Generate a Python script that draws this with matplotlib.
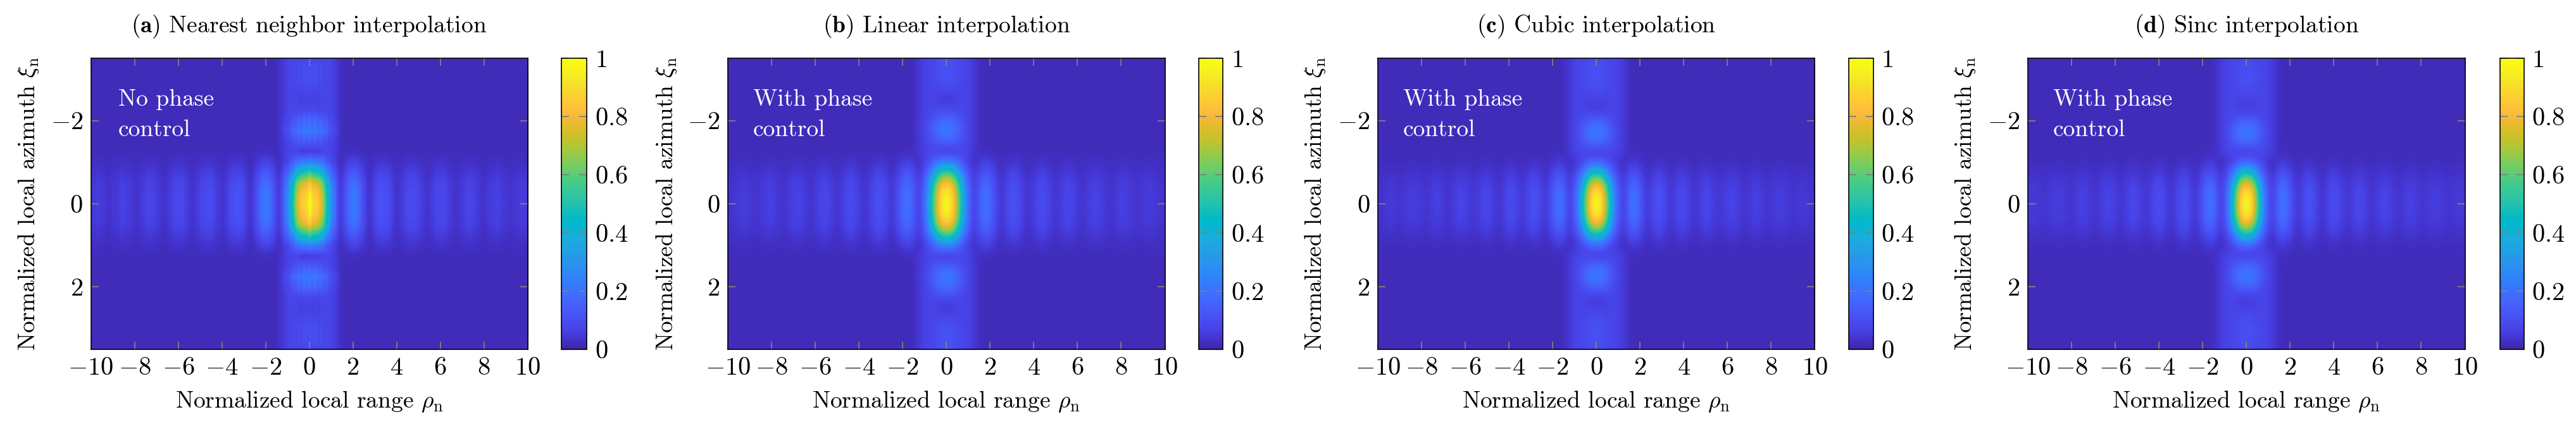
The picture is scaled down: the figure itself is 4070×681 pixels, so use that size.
#!/usr/bin/env python3
"""
Four normalized point target responses with parula colorbars
"""
import matplotlib
matplotlib.use('Agg')
import matplotlib.pyplot as plt
import numpy as np
from matplotlib.colors import LinearSegmentedColormap

plt.rcParams['font.family'] = ['cmr10', 'DejaVu Serif']
plt.rcParams['mathtext.fontset'] = 'cm'
plt.rcParams['axes.formatter.use_mathtext'] = True
plt.rcParams['axes.unicode_minus'] = False

titles = [
    r'($\mathbf{a}$) Nearest neighbor interpolation',
    r'($\mathbf{b}$) Linear interpolation',
    r'($\mathbf{c}$) Cubic interpolation',
    r'($\mathbf{d}$) Sinc interpolation',
]
notes = [
    ['No phase', 'control'],
    ['With phase', 'control'],
    ['With phase', 'control'],
    ['With phase', 'control'],
]

x_ticks = [-10, -8, -6, -4, -2, 0, 2, 4, 6, 8, 10]
y_ticks = [-2, 0, 2]
bar_ticks = [0, 0.2, 0.4, 0.6, 0.8, 1]
bar_labels = ['0', '0.2', '0.4', '0.6', '0.8', '1']

# values read along rho_n from 0 to 10, panel a every 0.125, the others every 0.25
range_a = [1.00, .90, .88, .85, .78, .68, .50, .40, .26, .20, .10, .04, .05, .10, .15, .19,
           .21, .20, .16, .11, .07, .03, .02, .04, .07, .09, .10, .10, .09, .08, .05, .03,
           .02, .03, .04, .06, .08, .08, .08, .07, .06, .04, .03, .02, .03, .04, .06, .07,
           .07, .07, .06, .04, .03, .02, .02, .03, .04, .05, .06, .06, .05, .04, .03, .02,
           .02, .03, .04, .04, .05, .05, .04, .03, .03, .02, .02, .03, .03, .04, .04, .03, .03]
range_b = [1.00, .93, .68, .38, .17, .03, .12, .20, .16, .07, .02, .06, .10, .09, .04, .02,
           .04, .08, .08, .04, .02, .04, .065, .06, .03, .02, .04, .055, .05, .03, .02, .03,
           .05, .04, .03, .02, .03, .04, .035, .02, .02]
range_c = [1.00, .92, .60, .30, .12, .03, .16, .20, .12, .03, .04, .10, .09, .04, .03, .07,
           .08, .04, .02, .04, .07, .05, .03, .03, .05, .06, .04, .02, .03, .05, .04, .02,
           .03, .04, .04, .03, .02, .03, .035, .02, .02]
range_d = [1.00, .92, .58, .28, .08, .05, .18, .20, .11, .03, .04, .10, .09, .04, .02, .06,
           .09, .06, .03, .03, .06, .07, .04, .02, .04, .06, .05, .03, .02, .04, .05, .04,
           .02, .03, .04, .04, .03, .02, .03, .035, .03]

# width of the azimuth side lobes along rho_n, same spacing as the range values, zero further out
band_a = [1.00, .85, 1.00, .78, .90, .68, .70, .48, .42, .30, .20, .08, .02]
band_b = [1.00, .95, .75, .50, .28, .10, .02]
band_c = [1.00, .95, .75, .48, .26, .10, .02]
band_d = [1.00, .95, .75, .48, .26, .10, .02]

# level of the band beside the dark azimuth nulls, same spacing as band
edge_a = [0, .005, .02, .035, .05, .06, .06, .06, .05, .04, .03, .015, .005]
edge_b = [0, .02, .05, .06, .05, .03, .005]
edge_c = [0, .02, .05, .06, .05, .03, .005]
edge_d = [0, .02, .05, .06, .05, .03, .005]

# values read along xi_n from 0 to 3.5 every 0.25, the first null is at index 5
azimuth_a = [1.00, .97, .85, .55, .25, .04, .13, .22, .17, .07, .05, .07, .09, .09, .07]
azimuth_b = [1.00, .97, .85, .55, .24, .02, .14, .22, .17, .08, .02, .07, .10, .10, .09]
azimuth_c = [1.00, .96, .78, .45, .14, .03, .17, .22, .14, .03, .05, .08, .10, .09, .08]
azimuth_d = [1.00, .96, .78, .45, .14, .03, .17, .22, .14, .03, .05, .08, .10, .09, .08]

range_cuts = [range_a, range_b, range_c, range_d]
band_cuts = [band_a, band_b, band_c, band_d]
edge_cuts = [edge_a, edge_b, edge_c, edge_d]
azimuth_cuts = [azimuth_a, azimuth_b, azimuth_c, azimuth_d]
background = 0.018

parula_colors = [
    (0.2422, 0.1504, 0.6603), (0.2647, 0.1978, 0.7952), (0.2783, 0.2559, 0.8991),
    (0.2813, 0.3006, 0.9414), (0.2795, 0.3447, 0.9717), (0.2699, 0.3892, 0.9906),
    (0.2440, 0.4358, 0.9988), (0.1963, 0.4847, 0.9892), (0.1786, 0.5289, 0.9682),
    (0.1687, 0.5703, 0.9359), (0.1460, 0.6091, 0.9079), (0.1248, 0.6459, 0.8883),
    (0.0952, 0.6798, 0.8598), (0.0297, 0.7082, 0.8163), (0.0067, 0.7312, 0.7660),
    (0.0964, 0.7500, 0.7120), (0.1717, 0.7670, 0.6554), (0.2161, 0.7843, 0.5923),
    (0.2906, 0.7973, 0.5188), (0.3909, 0.8029, 0.4354), (0.5044, 0.7993, 0.3480),
    (0.6174, 0.7876, 0.2612), (0.7242, 0.7698, 0.1910), (0.8203, 0.7498, 0.1535),
    (0.9035, 0.7330, 0.1774), (0.9728, 0.7298, 0.2394), (0.9970, 0.7659, 0.2199),
    (0.9892, 0.8136, 0.1885), (0.9676, 0.8639, 0.1643), (0.9597, 0.9135, 0.1423),
    (0.9691, 0.9606, 0.1064), (0.9769, 0.9839, 0.0805),
]
parula = LinearSegmentedColormap.from_list('parula', parula_colors, N=256)

# left and right pixel edges of plot and colorbar
WIDTH, HEIGHT = 4070, 681
TOP, BOTTOM = 92, 552
plot_edges = [(143.5, 833.5), (1150, 1840.5), (2177, 2867), (3204, 3894.5)]
bar_edges = [(887, 927), (1894, 1932), (2921, 2960), (3950, 3988)]
label_x = [45, 1053, 2078, 3105]
note_x = [-8.74, -8.84, -8.84, -8.84]

GREY = '#808080'
FS_TICK = 29
FS_LABEL = 27
AZIMUTH_NULL = 5


def pixel_axes(fig, left, right):
    return fig.add_axes([left / WIDTH, 1 - BOTTOM / HEIGHT,
                         (right - left) / WIDTH, (BOTTOM - TOP) / HEIGHT])


def mirror(values):
    values = np.asarray(values, dtype=float)
    return np.concatenate([values[:0:-1], values])


def pad_cut(values, size):
    out = np.zeros(size)
    out[:len(values)] = values
    return out


def build_field(idx):
    # range lobes only inside the first azimuth null, azimuth lobes only near rho_n = 0
    size = len(range_cuts[idx])
    band = pad_cut(band_cuts[idx], size)
    edge = pad_cut(edge_cuts[idx], size)
    core = np.array(azimuth_cuts[idx], dtype=float)
    tail = core.copy()
    core[AZIMUTH_NULL + 1:] = 0
    tail[:AZIMUTH_NULL + 1] = 0
    outside = (np.arange(len(core)) >= AZIMUTH_NULL).astype(float)

    field = np.outer(mirror(core), mirror(range_cuts[idx]))
    field += np.outer(mirror(tail), mirror(band))
    field = np.maximum(field, np.outer(mirror(outside), mirror(edge)))
    return background + (1 - background) * field


def make_panel(fig, idx):
    ax = pixel_axes(fig, *plot_edges[idx])
    cax = pixel_axes(fig, *bar_edges[idx])

    field = build_field(idx)
    dx = 20 / (field.shape[1] - 1)
    dy = 7 / (field.shape[0] - 1)
    im = ax.imshow(field, cmap=parula, vmin=0, vmax=1, aspect='auto', origin='upper',
                   interpolation='bilinear' if idx == 0 else 'bicubic',
                   extent=[-10 - dx / 2, 10 + dx / 2, 3.5 + dy / 2, -3.5 - dy / 2])
    ax.set_xlim(-10, 10)
    ax.set_ylim(3.5, -3.5)

    ax.set_xticks(x_ticks)
    ax.set_xticklabels([f'${t}$' for t in x_ticks], fontsize=FS_TICK)
    ax.set_yticks(y_ticks)
    ax.set_yticklabels([f'${t}$' for t in y_ticks], fontsize=FS_TICK)
    ax.tick_params(axis='both', direction='in', length=8.6, width=1.3, color=GREY,
                   top=True, right=True, pad=9)
    for spine in ax.spines.values():
        spine.set_linewidth(1.2)

    plot_mid = sum(plot_edges[idx]) / 2
    fig.text(plot_mid / WIDTH, 1 - 42 / HEIGHT, titles[idx], fontsize=FS_LABEL,
             ha='center', va='center')
    fig.text(plot_mid / WIDTH, 1 - 634 / HEIGHT, r'Normalized local range $\rho_{\mathrm{n}}$',
             fontsize=FS_LABEL, ha='center', va='center')
    fig.text(label_x[idx] / WIDTH, 1 - 322 / HEIGHT, r'Normalized local azimuth $\xi_{\mathrm{n}}$',
             fontsize=FS_LABEL, rotation=90, ha='center', va='center')

    ax.text(note_x[idx], -2.5, notes[idx][0], color='white', fontsize=FS_LABEL, ha='left', va='center')
    ax.text(note_x[idx], -1.78, notes[idx][1], color='white', fontsize=FS_LABEL, ha='left', va='center')

    cbar = fig.colorbar(im, cax=cax, ticks=bar_ticks)
    cbar.ax.set_yticklabels([f'${t}$' for t in bar_labels], fontsize=FS_TICK)
    cbar.ax.tick_params(axis='y', which='both', direction='in', length=8.6, width=1.3, color=GREY,
                        left=True, right=True, pad=9)
    cbar.ax.minorticks_off()
    cbar.outline.set_linewidth(1.2)


def main():
    fig = plt.figure(figsize=(WIDTH / 100, HEIGHT / 100), dpi=100)
    for idx in range(4):
        make_panel(fig, idx)
    fig.savefig('out.png', dpi=100)
    plt.close(fig)


if __name__ == '__main__':
    main()
